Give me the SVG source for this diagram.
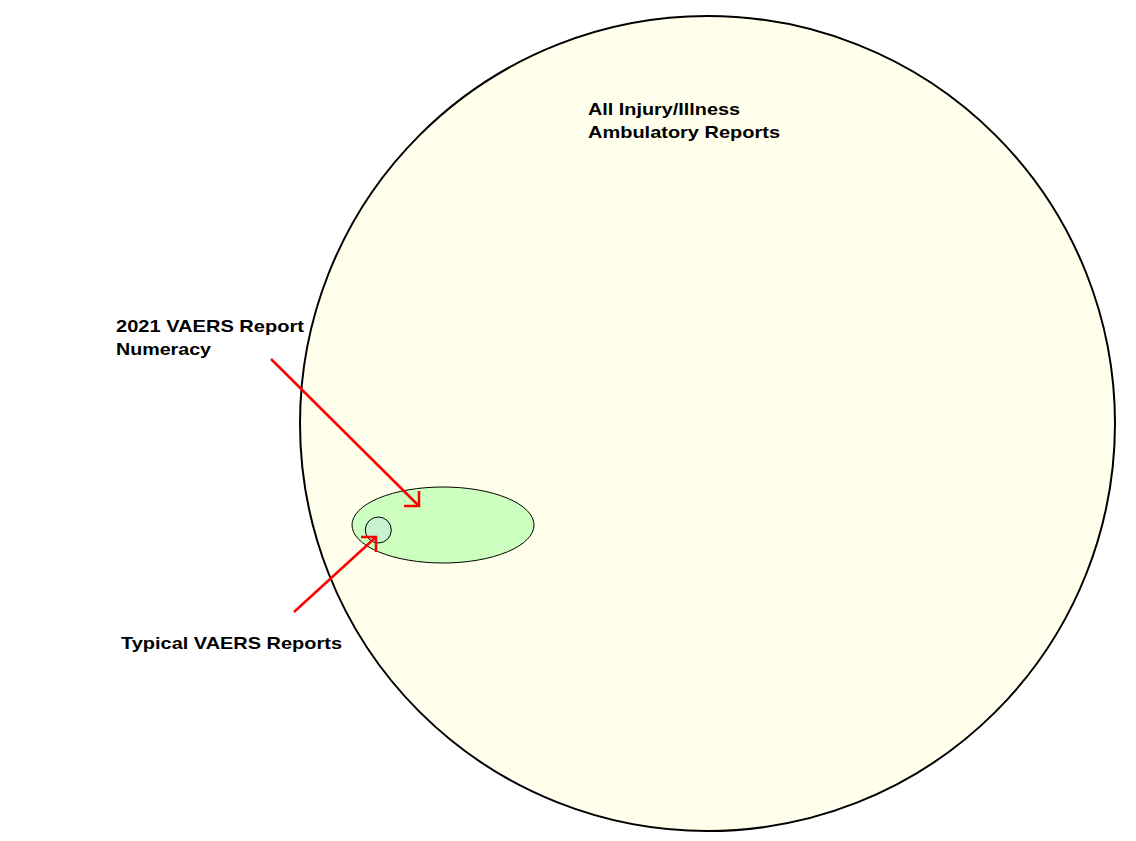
<svg xmlns="http://www.w3.org/2000/svg" width="1136" height="841" viewBox="0 0 1136 841">
<style>
.lbl{font-family:"Liberation Sans",Arial,sans-serif;font-weight:bold;font-size:17px;fill:#000}
.arr{stroke:#FF0000;stroke-width:2.5;fill:none}
</style>
<rect width="1136" height="841" fill="#FFFFFF"/>
<g id="all-reports">
<circle cx="707.5" cy="423.5" r="407.5" fill="#FFFFEB" stroke="#000" stroke-width="2"/>
<text class="lbl" x="588" y="115" textLength="152" lengthAdjust="spacingAndGlyphs">All Injury/Illness</text>
<text class="lbl" x="588" y="138" textLength="192" lengthAdjust="spacingAndGlyphs">Ambulatory Reports</text>
</g>
<g id="vaers-2021">
<ellipse cx="443" cy="525" rx="91" ry="38" fill="#CCFFC0" stroke="#000" stroke-width="1"/>
<text class="lbl" x="116" y="332" textLength="188" lengthAdjust="spacingAndGlyphs">2021 VAERS Report</text>
<text class="lbl" x="116" y="355" textLength="95" lengthAdjust="spacingAndGlyphs">Numeracy</text>
</g>
<g id="typical-vaers">
<circle cx="378.3" cy="530" r="13" fill="#C6F2D0" stroke="#000" stroke-width="1"/>
<text class="lbl" x="121" y="649" textLength="221" lengthAdjust="spacingAndGlyphs">Typical VAERS Reports</text>
</g>
<g id="connectors">
<line class="arr" x1="271" y1="359" x2="419" y2="506"/>
<polyline class="arr" points="419,491 419,506 404,506"/>
<line class="arr" x1="294" y1="612" x2="376" y2="537"/>
<polyline class="arr" points="361,537 376,537 376,552"/>
</g>
</svg>
